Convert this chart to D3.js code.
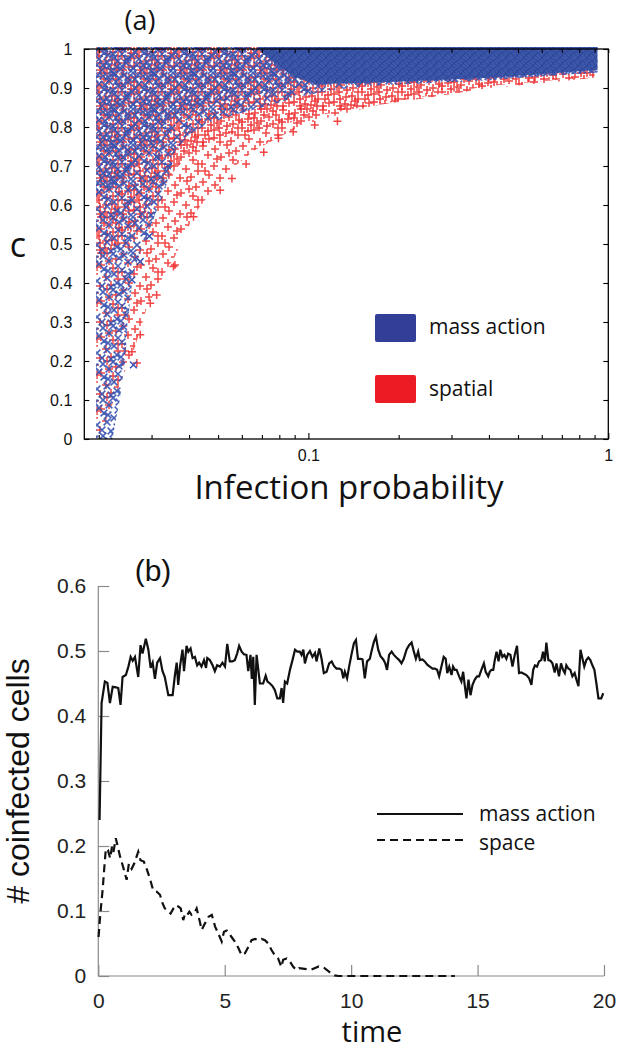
<!DOCTYPE html>
<html><head><meta charset="utf-8">
<script src="https://cdn.jsdelivr.net/npm/d3@7"></script>
<style>body{margin:0;background:#fff}svg{display:block}</style>
</head><body>
<svg id="chart" width="617" height="1050"></svg>
<script>
// ================= DATA =================
// Panel (a): c vs infection probability (log x)
const xTicksA = [0.1, 1];
const xTickLabelsA = ["0.1", "1"];
const xMinorTicksA = [0.02,0.03,0.04,0.05,0.06,0.07,0.08,0.09,0.2,0.3,0.4,0.5,0.6,0.7,0.8,0.9];
const yTicksA = [0,0.1,0.2,0.3,0.4,0.5,0.6,0.7,0.8,0.9,1];
const yTickLabelsA = ["0","0.1","0.2","0.3","0.4","0.5","0.6","0.7","0.8","0.9","1"];
// spatial (+) cloud: lower edge of the point cloud (upper edge is c = 1)
const spatialLowP = [0.0196,0.021,0.0225,0.024,0.026,0.0275,0.029,0.031,0.0335,0.036,0.039,0.042,0.046,0.051,0.057,0.066,0.078,0.093,0.11,0.14,0.18,0.23,0.3,0.4,0.55,0.7,0.9];
const spatialLowC = [0,0.04,0.1,0.16,0.22,0.28,0.34,0.38,0.43,0.47,0.53,0.58,0.62,0.655,0.7,0.74,0.77,0.8,0.82,0.84,0.86,0.875,0.89,0.905,0.915,0.922,0.928];
// spatial: lower edge of the denser part of the cloud
const spatialDenseP = [0.0196,0.025,0.03,0.035,0.04,0.047,0.055,0.07,0.1,0.15,0.25,0.4,0.6,0.9];
const spatialDenseC = [0.45,0.52,0.6,0.68,0.73,0.76,0.78,0.79,0.825,0.85,0.875,0.9,0.912,0.926];
// mass action (x) cloud: lower edge of the point cloud
const massLowP = [0.0196,0.0222,0.0235,0.0245,0.025,0.026,0.0275,0.029,0.031,0.033,0.0345,0.036,0.04,0.047,0.056,0.07,0.09,0.12,0.16,0.25,0.4,0.6,0.92];
const massLowC = [0,0,0.1,0.2,0.3,0.42,0.48,0.52,0.58,0.63,0.68,0.74,0.78,0.81,0.83,0.85,0.875,0.895,0.905,0.912,0.92,0.93,0.94];
// mass action: lower edge of the denser (upper) part of the cloud
const massMidP = [0.0196,0.025,0.03,0.035,0.04,0.05,0.06,0.075,0.09,0.12,0.3,0.92];
const massMidC = [0.62,0.66,0.76,0.82,0.85,0.865,0.875,0.89,0.9,0.91,0.918,0.94];
// mass action: lower edge of the saturated (solid) part of the cloud
const massDenseP = [0.068,0.078,0.09,0.105,0.15,0.25,0.4,0.6,0.92];
const massDenseC = [1.0,0.96,0.928,0.91,0.913,0.919,0.926,0.936,0.946];
// isolated points near the cloud edges
const spatialOutP = [0.0359,0.0268,0.0258,0.0275,0.0312,0.0297,0.0556,0.0508,0.0795,0.089,0.0414,0.0355,0.062,0.071,0.105,0.125];
const spatialOutC = [0.446,0.195,0.224,0.267,0.369,0.348,0.668,0.638,0.771,0.788,0.57,0.442,0.705,0.735,0.805,0.815];
const massOutP = [0.0261,0.0258,0.0312,0.0275,0.0295];
const massOutC = [0.19,0.408,0.724,0.455,0.52];
const legendA = ["mass action", "spatial"];

// Panel (b): # coinfected cells vs time
const massTime = [0.05,0.13,0.26,0.36,0.46,0.57,0.7,0.79,0.88,0.96,
1.09,1.19,1.28,1.36,1.45,1.58,1.67,1.75,1.88,1.98,
2.07,2.15,2.24,2.33,2.44,2.54,2.63,2.77,2.94,3.03,
3.1,3.16,3.23,3.33,3.39,3.49,3.56,3.65,3.73,3.82,
3.91,3.99,4.08,4.18,4.26,4.31,4.41,4.52,4.61,4.7,
4.81,4.91,5.01,5.1,5.2,5.3,5.4,5.49,5.57,5.67,
5.76,5.86,5.93,6.02,6.07,6.13,6.19,6.26,6.39,6.52,
6.62,6.69,6.79,6.89,6.98,7.08,7.18,7.25,7.31,7.38,
7.47,7.58,7.68,7.78,7.87,7.97,8.04,8.11,8.17,8.26,
8.37,8.47,8.57,8.63,8.74,8.83,8.92,9.03,9.13,9.23,
9.32,9.42,9.53,9.62,9.69,9.75,9.84,9.92,10.02,10.11,
10.19,10.27,10.37,10.45,10.54,10.63,10.74,10.82,10.9,10.98,
11.07,11.16,11.27,11.35,11.42,11.5,11.6,11.69,11.79,11.9,
11.99,12.08,12.19,12.29,12.39,12.48,12.56,12.65,12.72,12.82,
12.91,13.01,13.11,13.22,13.31,13.4,13.48,13.57,13.66,13.74,
13.8,13.88,13.97,14.03,14.1,14.17,14.27,14.36,14.43,14.49,
14.56,14.64,14.72,14.8,14.89,14.98,15.06,15.15,15.25,15.32,
15.42,15.48,15.55,15.62,15.68,15.75,15.83,15.9,15.98,16.06,
16.14,16.21,16.3,16.38,16.47,16.56,16.64,16.73,16.83,16.93,
17.04,17.13,17.2,17.27,17.35,17.43,17.52,17.59,17.66,17.72,
17.8,17.88,17.96,18.05,18.12,18.22,18.3,18.38,18.45,18.51,
18.59,18.67,18.75,18.84,18.91,18.99,19.07,19.15,19.22,19.3,
19.38,19.46,19.54,19.62,19.7,19.78,19.89,19.97];
const massValue = [0.24,0.42,0.453,0.451,0.42,0.445,0.444,0.443,0.417,0.46,
0.463,0.476,0.491,0.485,0.491,0.46,0.509,0.496,0.519,0.502,
0.474,0.482,0.457,0.482,0.489,0.469,0.46,0.432,0.432,0.463,
0.482,0.448,0.476,0.502,0.469,0.508,0.499,0.504,0.489,0.491,
0.478,0.482,0.476,0.486,0.474,0.489,0.486,0.478,0.469,0.478,
0.476,0.482,0.476,0.511,0.484,0.484,0.486,0.496,0.508,0.499,
0.495,0.494,0.469,0.494,0.457,0.491,0.417,0.494,0.45,0.45,
0.462,0.453,0.45,0.446,0.44,0.427,0.427,0.443,0.42,0.453,
0.45,0.471,0.486,0.502,0.499,0.499,0.494,0.502,0.481,0.494,
0.5,0.491,0.497,0.484,0.504,0.488,0.466,0.468,0.481,0.484,
0.477,0.473,0.473,0.471,0.458,0.468,0.458,0.476,0.496,0.512,
0.517,0.488,0.488,0.487,0.458,0.484,0.488,0.502,0.514,0.522,
0.502,0.492,0.487,0.481,0.471,0.494,0.499,0.494,0.49,0.486,
0.481,0.488,0.502,0.509,0.513,0.499,0.488,0.499,0.486,0.487,
0.484,0.479,0.476,0.473,0.473,0.471,0.461,0.476,0.491,0.488,
0.466,0.476,0.463,0.476,0.471,0.471,0.461,0.453,0.468,0.448,
0.427,0.456,0.432,0.448,0.456,0.461,0.461,0.471,0.481,0.468,
0.461,0.468,0.471,0.471,0.486,0.499,0.484,0.502,0.491,0.494,
0.488,0.496,0.494,0.476,0.494,0.508,0.466,0.467,0.465,0.463,
0.458,0.448,0.471,0.478,0.476,0.484,0.486,0.499,0.484,0.513,
0.486,0.485,0.481,0.467,0.481,0.461,0.481,0.471,0.466,0.478,
0.473,0.471,0.461,0.466,0.456,0.446,0.502,0.488,0.476,0.486,
0.49,0.486,0.478,0.471,0.45,0.427,0.427,0.435];
const spaceTime = [0.01,0.08,0.17,0.25,0.3,0.38,0.47,0.54,0.6,0.69,
0.77,0.86,0.98,1.12,1.21,1.32,1.42,1.58,1.67,1.8,
1.91,2.04,2.17,2.3,2.44,2.54,2.63,2.77,2.86,2.97,
3.07,3.16,3.26,3.36,3.43,3.52,3.6,3.69,3.79,3.89,
4.0,4.09,4.22,4.36,4.49,4.62,4.75,4.88,4.97,5.08,
5.18,5.27,5.4,5.54,5.67,5.8,5.94,6.06,6.2,6.33,
6.46,6.59,6.72,6.85,6.98,7.11,7.24,7.31,7.45,7.58,
7.71,7.84,7.94,8.41,8.72,8.95,9.11,9.34,9.5,14.1];
const spaceValue = [0.06,0.096,0.132,0.173,0.196,0.194,0.181,0.199,0.191,0.212,
0.199,0.184,0.168,0.148,0.173,0.165,0.173,0.191,0.178,0.176,
0.165,0.15,0.132,0.13,0.125,0.112,0.104,0.099,0.096,0.104,
0.109,0.107,0.104,0.086,0.096,0.094,0.099,0.094,0.096,0.104,
0.086,0.071,0.081,0.091,0.094,0.076,0.065,0.053,0.068,0.07,
0.065,0.06,0.053,0.043,0.032,0.035,0.045,0.055,0.057,0.055,
0.057,0.055,0.05,0.04,0.032,0.027,0.014,0.025,0.027,0.022,
0.014,0.009,0.012,0.0097,0.0148,0.012,0.007,0.001,0,0];
const xTicksB = [0,5,10,15,20];
const yTicksB = [0,0.1,0.2,0.3,0.4,0.5,0.6];
const legendB = ["mass action", "space"];

// ================= STYLE =================
const RED = "#ee2426", BLUE = "#3754b2";
const LEG_BLUE = "#323f98", LEG_RED = "#ec1c24";
const SANS = "'Liberation Sans', Arial, sans-serif";
const HUM = "'Open Sans', 'Noto Sans', sans-serif";
// marker layout inside the texture tiles used to render the dense clouds
const plusTileA = {w:40, h:36, pts:[[3,2],[15,5],[27,1],[36,7],[8,11],[21,13],[33,16],[2,20],[14,22],[26,25],[38,27],[9,31],[20,34],[31,33],[17,15],[5,27],[29,9],[38,20]]};
const plusTileB = {w:40, h:36, pts:[[9,6],[21,1],[33,3],[2,14],[14,10],[27,18],[39,12],[8,23],[20,27],[32,24],[3,34],[14,30],[25,32],[37,34],[24,7],[11,17],[35,29],[19,20]]};
const crossTile = {w:40, h:36, pts:[[4,3],[13,1],[23,4],[33,2],[8,10],[19,12],[29,9],[38,14],[2,18],[12,20],[24,17],[34,22],[6,27],[17,29],[27,26],[37,31],[11,35],[22,34],[31,35],[1,33],[15,7],[39,6],[28,19],[8,22]]};
const crossTileB = {w:40, h:36, pts:[[8,6],[18,3],[28,5],[36,10],[3,13],[15,16],[25,13],[33,18],[7,24],[19,23],[29,30],[38,25],[2,30],[13,32],[23,29],[35,2]]};
const denseTile = {w:9, h:8, pts:[[2,2],[7,5],[4,7]]};

const svg = d3.select("#chart");
const defs = svg.append("defs");

function markPath(kind, x, y, a) {
  return kind === "plus"
    ? `M${x-a},${y}H${x+a}M${x},${y-a}V${y+a}`
    : `M${x-a},${y-a}L${x+a},${y+a}M${x-a},${y+a}L${x+a},${y-a}`;
}
function makePattern(id, tile, kind, color, sw, arm, opacity, bg) {
  const p = defs.append("pattern").attr("id", id)
    .attr("patternUnits", "userSpaceOnUse").attr("width", tile.w).attr("height", tile.h);
  if (bg) p.append("rect").attr("width", tile.w).attr("height", tile.h).attr("fill", bg);
  let d = "";
  tile.pts.forEach(([ox, oy]) => {
    for (const dx of [-tile.w, 0, tile.w]) for (const dy of [-tile.h, 0, tile.h]) {
      const x = ox + dx, y = oy + dy;
      if (x < -arm - 1 || x > tile.w + arm + 1 || y < -arm - 1 || y > tile.h + arm + 1) continue;
      d += markPath(kind, x, y, arm);
    }
  });
  p.append("path").attr("d", d).attr("stroke", color).attr("stroke-width", sw)
    .attr("stroke-opacity", opacity).attr("fill", "none");
}
makePattern("plusPatA", plusTileA, "plus", RED, 1.5, 4, 0.85);
makePattern("plusPatB", plusTileB, "plus", RED, 1.5, 4, 0.9);
makePattern("crossPat", crossTile, "cross", BLUE, 1.5, 3.4, 0.92);
makePattern("crossPatB", crossTileB, "cross", BLUE, 1.5, 3.4, 0.92);
makePattern("densePat", denseTile, "cross", "#2c4496", 1, 2.6, 0.8, "#3d57aa");

// ================= PANEL (a) =================
const xA = d3.scaleLog().domain([0.0179, 1]).range([84.3, 608.3]);
const yA = d3.scaleLinear().domain([0, 1]).range([439, 49]);

defs.append("clipPath").attr("id", "clipA").append("rect")
  .attr("x", 84.3).attr("y", 46).attr("width", 524).attr("height", 393);

const gA = svg.append("g").attr("clip-path", "url(#clipA)");
const zip = (P, C) => P.map((p, i) => ({p, c: C[i]}));
const cloud = d3.area().x(d => xA(d.p)).y0(d => yA(d.c)).y1(yA(1) - 2);

gA.append("path").datum(zip(spatialLowP, spatialLowC)).attr("d", cloud).attr("fill", "url(#plusPatA)");
gA.append("path").datum(zip(spatialDenseP, spatialDenseC)).attr("d", cloud).attr("fill", "url(#plusPatB)");
gA.selectAll(".spOut").data(zip(spatialOutP, spatialOutC)).join("path")
  .attr("d", d => markPath("plus", xA(d.p), yA(d.c), 4))
  .attr("stroke", RED).attr("stroke-width", 1.5).attr("stroke-opacity", 0.85);
gA.append("path").datum(zip(massLowP, massLowC)).attr("d", cloud).attr("fill", "url(#crossPat)");
gA.append("path").datum(zip(massMidP, massMidC)).attr("d", cloud).attr("fill", "url(#crossPatB)");
gA.append("path").datum(zip(massDenseP, massDenseC)).attr("d", cloud).attr("fill", "url(#densePat)");
gA.selectAll(".maOut").data(zip(massOutP, massOutC)).join("path")
  .attr("d", d => markPath("cross", xA(d.p), yA(d.c), 3.4))
  .attr("stroke", BLUE).attr("stroke-width", 1.5);

// frame + ticks
const axA = svg.append("g").attr("font-family", SANS);
axA.append("rect").attr("x", 84.3).attr("y", 49).attr("width", 524).attr("height", 390)
  .attr("fill", "none").attr("stroke", "#000").attr("stroke-width", 1.3);
function styleAxis(g, fs) {
  g.select(".domain").remove();
  g.selectAll(".tick line").attr("stroke", "#000").attr("stroke-width", 1.1);
  g.selectAll(".tick text").attr("font-size", fs).attr("fill", "#111").attr("font-family", SANS);
  g.selectAll(".tick text").filter(function () { return this.textContent === ""; }).remove();
}
axA.append("g").attr("transform", "translate(84.3,0)")
  .call(d3.axisLeft(yA).tickValues(yTicksA).tickSize(-5).tickPadding(12)
    .tickFormat((d, i) => yTickLabelsA[i])).call(g => styleAxis(g, 16));
axA.append("g").attr("transform", "translate(608.3,0)")
  .call(d3.axisRight(yA).tickValues(yTicksA).tickSize(-5).tickFormat(""))
  .call(g => styleAxis(g, 16));
axA.append("g").attr("transform", "translate(0,439)")
  .call(d3.axisBottom(xA).tickValues(xTicksA).tickSize(-6).tickPadding(11)
    .tickFormat((d, i) => xTickLabelsA[i])).call(g => styleAxis(g, 16));
axA.append("g").attr("transform", "translate(0,439)")
  .call(d3.axisBottom(xA).tickValues(xMinorTicksA).tickSize(-4).tickFormat(""))
  .call(g => styleAxis(g, 16));
axA.append("g").attr("transform", "translate(0,49)")
  .call(d3.axisTop(xA).tickValues(xTicksA.concat(xMinorTicksA)).tickSize(-4).tickFormat(""))
  .call(g => styleAxis(g, 16));

// labels
svg.append("text").attr("x", 140).attr("y", 30).attr("text-anchor", "middle")
  .attr("font-family", HUM).attr("font-size", 27).attr("fill", "#111").text("(a)");
svg.append("text").attr("x", 18).attr("y", 257).attr("text-anchor", "middle")
  .attr("font-family", HUM).attr("font-size", 34).attr("fill", "#111").text("c");
svg.append("text").attr("x", 349).attr("y", 499).attr("text-anchor", "middle")
  .attr("font-family", HUM).attr("font-size", 33).attr("fill", "#111").text("Infection probability");

// legend (a)
const legA = svg.append("g");
[LEG_BLUE, LEG_RED].forEach((col, i) => {
  legA.append("rect").attr("x", 375).attr("y", 314 + i * 61).attr("width", 41).attr("height", 28)
    .attr("rx", 2).attr("fill", col);
  legA.append("text").attr("x", 429).attr("y", 334 + i * 62)
    .attr("font-family", HUM).attr("font-size", 21).attr("fill", "#111").text(legendA[i]);
});

// ================= PANEL (b) =================
const xB = d3.scaleLinear().domain([0, 20]).range([98.3, 604]);
const yB = d3.scaleLinear().domain([0, 0.6]).range([976, 586]);
const GRAY = "#8a8a8a";

const gB = svg.append("g");
gB.append("g").attr("transform", "translate(98.3,0)")
  .call(d3.axisLeft(yB).tickValues(yTicksB).tickSize(-11).tickPadding(12).tickFormat(d3.format("")))
  .call(g => {
    g.select(".domain").attr("stroke", GRAY).attr("stroke-width", 1.2).attr("d", `M0,${yB(0.6)}V${yB(0)}`);
    g.selectAll(".tick line").attr("stroke", GRAY).attr("stroke-width", 1.2);
    g.selectAll(".tick text").attr("font-family", SANS).attr("font-size", 21).attr("fill", "#222");
  });
gB.append("g").attr("transform", "translate(0,976)")
  .call(d3.axisBottom(xB).tickValues(xTicksB).tickSize(-11).tickPadding(17).tickFormat(d3.format("")))
  .call(g => {
    g.select(".domain").attr("stroke", GRAY).attr("stroke-width", 1.2).attr("d", `M${xB(0)},0H${xB(20)}`);
    g.selectAll(".tick line").attr("stroke", GRAY).attr("stroke-width", 1.2);
    g.selectAll(".tick text").attr("font-family", SANS).attr("font-size", 21).attr("fill", "#222");
  });

const lineB = d3.line().x(d => xB(d.t)).y(d => yB(d.v));
gB.append("path").datum(massTime.map((t, i) => ({t, v: massValue[i]})))
  .attr("d", lineB).attr("fill", "none").attr("stroke", "#111").attr("stroke-width", 2.2)
  .attr("stroke-linejoin", "miter");
gB.append("path").datum(spaceTime.map((t, i) => ({t, v: spaceValue[i]})))
  .attr("d", lineB).attr("fill", "none").attr("stroke", "#111").attr("stroke-width", 2.2)
  .attr("stroke-dasharray", "8,5");

svg.append("text").attr("x", 153).attr("y", 581).attr("text-anchor", "middle")
  .attr("font-family", SANS).attr("font-size", 30).attr("fill", "#111").text("(b)");
svg.append("text").attr("transform", "translate(29,781) rotate(-90)").attr("text-anchor", "middle")
  .attr("font-family", SANS).attr("font-size", 32).attr("fill", "#111").text("# coinfected cells");
svg.append("text").attr("x", 372).attr("y", 1042).attr("text-anchor", "middle")
  .attr("font-family", HUM).attr("font-size", 29).attr("fill", "#111").text("time");

// legend (b)
const legB = svg.append("g");
["", "8,5"].forEach((dash, i) => {
  legB.append("line").attr("x1", 377).attr("x2", 463).attr("y1", 814 + i * 26).attr("y2", 814 + i * 26)
    .attr("stroke", "#111").attr("stroke-width", 2.2).attr("stroke-dasharray", dash || null);
  legB.append("text").attr("x", 479).attr("y", 821 + i * 29)
    .attr("font-family", HUM).attr("font-size", 21).attr("fill", "#111").text(legendB[i]);
});
</script>
</body></html>
